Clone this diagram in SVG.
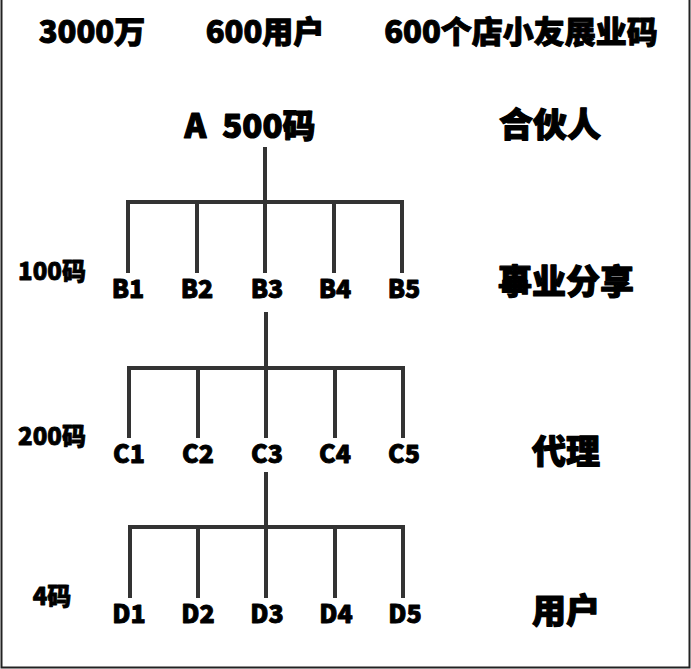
<svg xmlns="http://www.w3.org/2000/svg" width="691" height="669" viewBox="0 0 691 669">
<style>
text{font-family:"Noto Sans CJK SC","Noto Sans",sans-serif;font-weight:900;fill:#000;stroke:#000;stroke-width:1;stroke-linejoin:round;text-anchor:middle}
.top{font-size:31px}
.root{font-size:33px;stroke-width:1.2}
.role{font-size:34px;stroke-width:1.2}
.count{font-size:24px;stroke-width:0.8}
.node{font-size:25px;stroke-width:0.9}
.conn{fill:none;stroke:#333;stroke-width:4;stroke-linejoin:miter;stroke-linecap:butt}
</style>
<rect width="691" height="669" fill="#fff"/>
<path d="M1.5,0 V667.5 H689.5 V0" fill="none" stroke="#222" stroke-width="2"/>
<g id="header">
<text class="top" x="92" y="43">3000万</text>
<text class="top" x="265" y="43">600用户</text>
<text class="top" x="521" y="43">600个店小友展业码</text>
</g>
<g id="roles">
<text class="role" x="550" y="137">合伙人</text>
<text class="role" x="566" y="294">事业分享</text>
<text class="role" x="566" y="464">代理</text>
<text class="role" x="566" y="623">用户</text>
</g>
<g id="counts">
<text class="count" x="52" y="280">100码</text>
<text class="count" x="52" y="445">200码</text>
<text class="count" x="52" y="605">4码</text>
</g>
<g id="connectors">
<path class="conn" d="M265,147 V202 M128,273 V202 H402 V273 M197,202 V273 M265,202 V273 M334,202 V273"/>
<path class="conn" d="M266,312 V368 M129,438 V368 H403 V438 M198,368 V438 M266,368 V438 M335,368 V438"/>
<path class="conn" d="M266,472 V527 M130,598 V527 H403 V598 M198,527 V598 M266,527 V598 M335,527 V598"/>
</g>
<g id="A"><text class="root" x="250" y="138">A<tspan dx="16">500码</tspan></text></g>
<g id="B1"><text class="node" x="128" y="298">B1</text></g>
<g id="B2"><text class="node" x="197" y="298">B2</text></g>
<g id="B3"><text class="node" x="267" y="298">B3</text></g>
<g id="B4"><text class="node" x="335" y="298">B4</text></g>
<g id="B5"><text class="node" x="404" y="298">B5</text></g>
<g id="C1"><text class="node" x="129" y="463">C1</text></g>
<g id="C2"><text class="node" x="198" y="463">C2</text></g>
<g id="C3"><text class="node" x="267" y="463">C3</text></g>
<g id="C4"><text class="node" x="335" y="463">C4</text></g>
<g id="C5"><text class="node" x="404" y="463">C5</text></g>
<g id="D1"><text class="node" x="129" y="623">D1</text></g>
<g id="D2"><text class="node" x="198" y="623">D2</text></g>
<g id="D3"><text class="node" x="267" y="623">D3</text></g>
<g id="D4"><text class="node" x="336" y="623">D4</text></g>
<g id="D5"><text class="node" x="405" y="623">D5</text></g>
</svg>
